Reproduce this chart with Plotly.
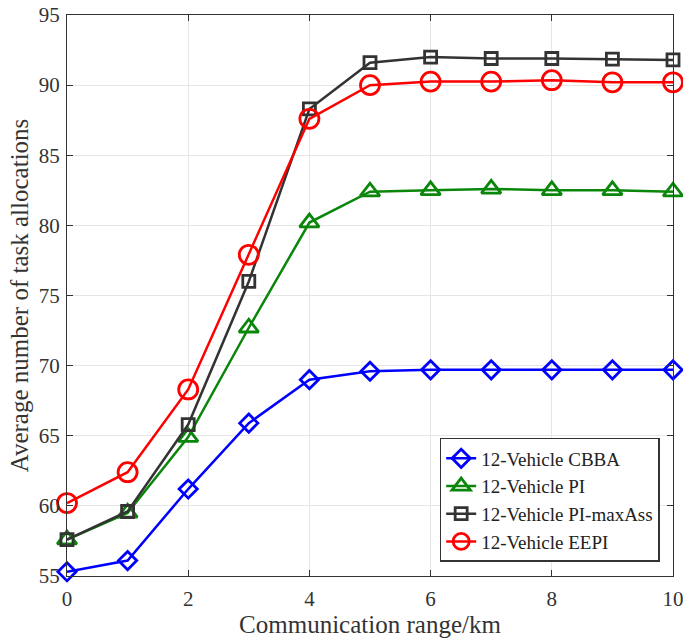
import plotly.graph_objects as go

x_range = [0, 1, 2, 3, 4, 5, 6, 7, 8, 9, 10]
cbba = [55.3, 56.1, 61.2, 65.9, 69.0, 69.6, 69.7, 69.7, 69.7, 69.7, 69.7]
pi = [57.6, 59.5, 64.9, 72.7, 80.2, 82.4, 82.5, 82.6, 82.5, 82.5, 82.4]
pi_maxass = [57.6, 59.6, 65.8, 76.0, 88.3, 91.6, 92.0, 91.9, 91.9, 91.85, 91.8]
eepi = [60.2, 62.4, 68.3, 77.9, 87.6, 90.0, 90.25, 90.25, 90.35, 90.2, 90.2]

series = [
    ("12-Vehicle CBBA", cbba, "#0000ff", "diamond-open", 14),
    ("12-Vehicle PI", pi, "#0a870a", "triangle-up-open", 17),
    ("12-Vehicle PI-maxAss", pi_maxass, "#333333", "square-open", 12),
    ("12-Vehicle EEPI", eepi, "#ff0000", "circle-open", 19),
]

FONT = "Liberation Serif, Times New Roman, serif"

fig = go.Figure()
for name, vals, color, sym, size in series:
    fig.add_trace(go.Scatter(
        x=x_range, y=vals, name=name, mode="lines+markers",
        line=dict(color=color, width=2.5),
        marker=dict(symbol=sym, size=size, color=color, line=dict(color=color, width=2.8)),
        cliponaxis=False,
    ))

axis_common = dict(
    showline=True, linecolor="#333333", linewidth=1.3, mirror="allticks",
    ticks="inside", ticklen=6, tickcolor="#333333", tickwidth=1.2,
    showgrid=True, gridcolor="#e6e6e6", gridwidth=1, zeroline=False,
    tickfont=dict(family=FONT, size=21, color="#333333"),
    automargin=False, ticklabeloverflow="allow",
)

fig.update_layout(
    width=683, height=643,
    margin=dict(l=67, r=10, t=15, b=67),
    paper_bgcolor="white", plot_bgcolor="white",
    font=dict(family=FONT, color="#333333"),
    xaxis=dict(range=[0, 10], dtick=2, tick0=0,
               title=dict(text="Communication range/km", font=dict(family=FONT, size=25, color="#333333"), standoff=2),
               ticklabelstandoff=4, **axis_common),
    yaxis=dict(range=[55, 95], dtick=5, tick0=55,
               title=dict(text="Average number of task allocations", font=dict(family=FONT, size=25, color="#333333"), standoff=2),
               ticklabelstandoff=2, **axis_common),
    legend=dict(x=0.978, y=0.025, xanchor="right", yanchor="bottom",
                bgcolor="white", bordercolor="#333333", borderwidth=1.5,
                font=dict(family=FONT, size=19, color="#222222"),
                tracegroupgap=0),
    showlegend=True,
)

fig.write_html("out.html", config={"displayModeBar": False},
               post_script="document.body.style.margin='0';document.body.style.overflow='hidden';")
